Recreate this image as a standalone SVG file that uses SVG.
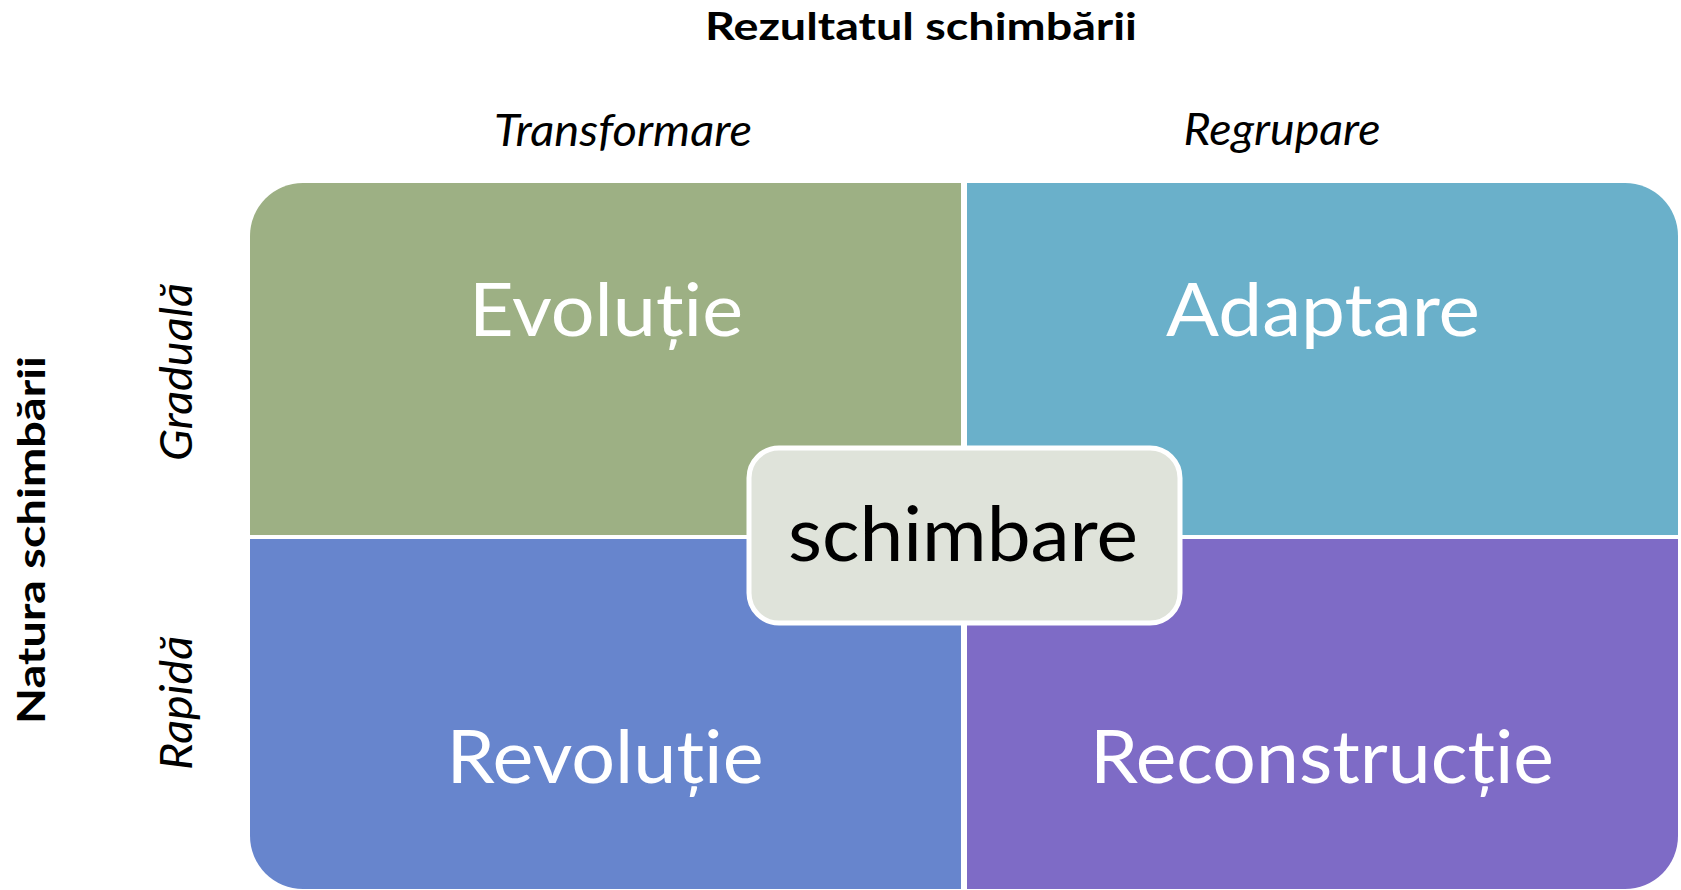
<svg xmlns="http://www.w3.org/2000/svg" width="1681" height="890" viewBox="0 0 1681 890">
  <style>
    text { font-family: Lato, "Open Sans", "Liberation Sans", sans-serif; }
    .title { font-size: 38px; font-weight: bold; fill: #000; text-anchor: middle; }
    .axis { font-size: 44px; font-style: italic; fill: #000; text-anchor: middle; }
    .big { font-size: 73px; fill: #fff; text-anchor: middle; }
    .center { font-size: 75px; fill: #000; text-anchor: middle; }
  </style>

  <rect width="1681" height="890" fill="#ffffff"/>

  <!-- axis titles -->
  <text class="title" x="921" y="40" textLength="432" lengthAdjust="spacingAndGlyphs">Rezultatul schimbării</text>
  <text class="title" transform="translate(45,540) rotate(-90)" x="0" y="0" textLength="368" lengthAdjust="spacingAndGlyphs">Natura schimbării</text>

  <!-- column headers -->
  <text class="axis" x="623" y="146" textLength="258" lengthAdjust="spacingAndGlyphs">Transformare</text>
  <text class="axis" x="1282" y="145" textLength="197" lengthAdjust="spacingAndGlyphs">Regrupare</text>

  <!-- row headers -->
  <text class="axis" transform="translate(192,372) rotate(-90)" x="0" y="0" textLength="178" lengthAdjust="spacingAndGlyphs">Graduală</text>
  <text class="axis" transform="translate(192,703) rotate(-90)" x="0" y="0" textLength="134" lengthAdjust="spacingAndGlyphs">Rapidă</text>

  <!-- quadrants -->
  <g id="evolutie">
    <path d="M250,236 A53,53 0 0 1 303,183 H961 V535 H250 Z" fill="#9DB084"/>
    <text class="big" x="606" y="336" textLength="274" lengthAdjust="spacingAndGlyphs">Evoluție</text>
  </g>
  <g id="adaptare">
    <path d="M967,183 H1625 A53,53 0 0 1 1678,236 V535 H967 Z" fill="#6AB0CA"/>
    <text class="big" x="1323" y="336" textLength="314" lengthAdjust="spacingAndGlyphs">Adaptare</text>
  </g>
  <g id="revolutie">
    <path d="M250,539 H961 V889 H303 A53,53 0 0 1 250,836 Z" fill="#6785CD"/>
    <text class="big" x="605" y="783" textLength="317" lengthAdjust="spacingAndGlyphs">Revoluție</text>
  </g>
  <g id="reconstructie">
    <path d="M967,539 H1678 V836 A53,53 0 0 1 1625,889 H967 Z" fill="#7E6BC6"/>
    <text class="big" x="1322" y="783" textLength="464" lengthAdjust="spacingAndGlyphs">Reconstrucție</text>
  </g>

  <!-- central hub -->
  <g id="schimbare">
    <rect x="749" y="448" width="431" height="175" rx="30" ry="30" fill="#DFE3DA" stroke="#ffffff" stroke-width="5"/>
    <text class="center" x="963" y="561" textLength="350" lengthAdjust="spacingAndGlyphs">schimbare</text>
  </g>

  <g id="connectors"></g>
</svg>
